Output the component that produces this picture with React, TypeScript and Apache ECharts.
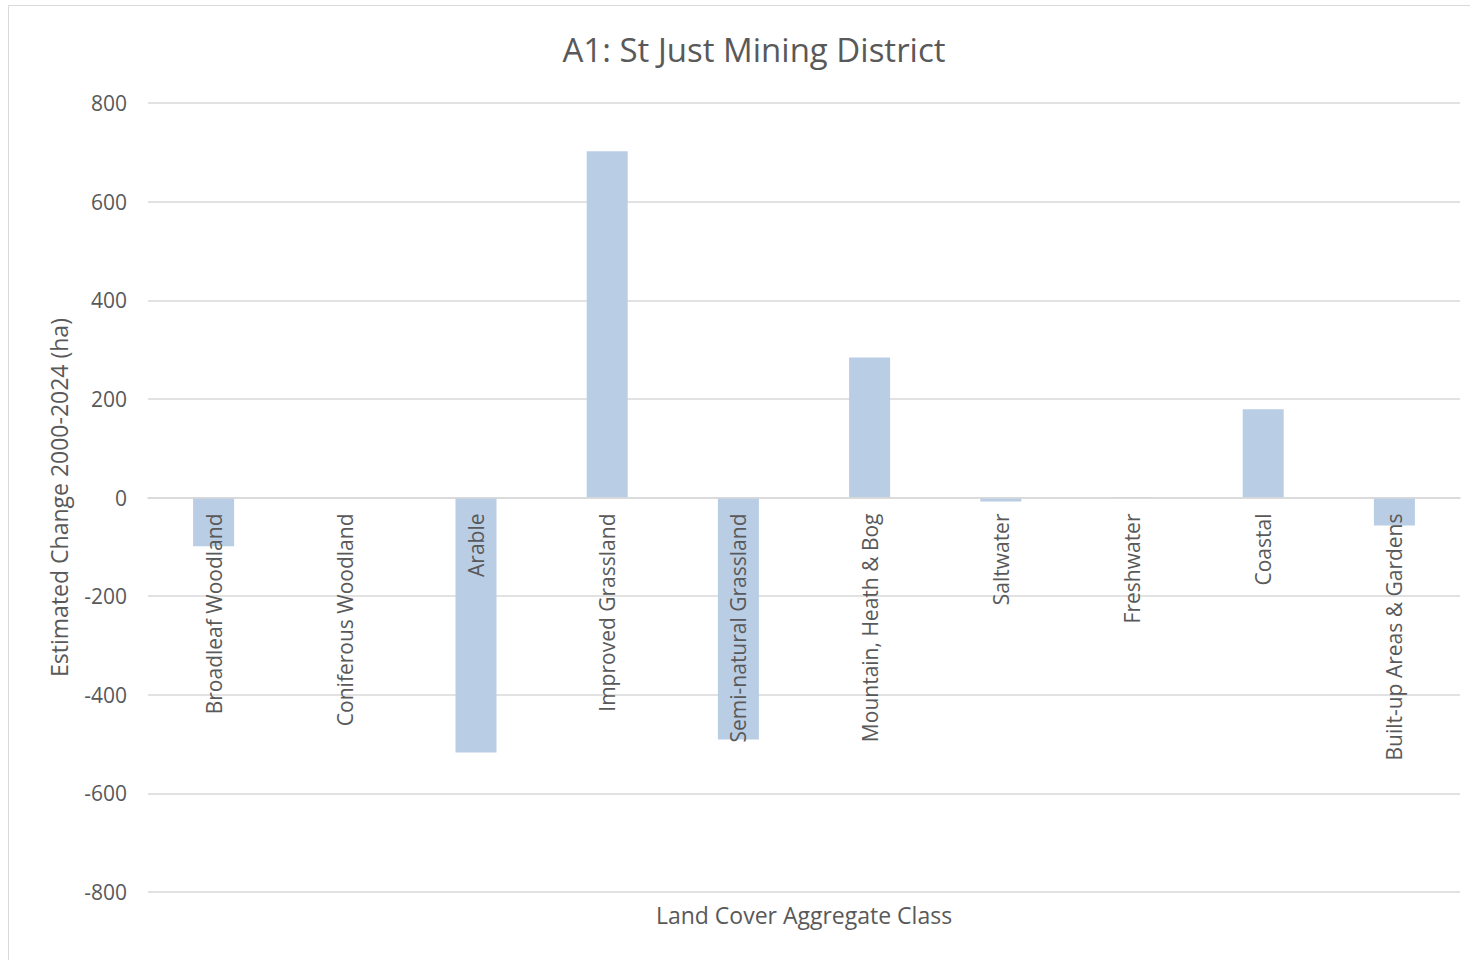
import React, { useEffect, useRef } from "react";
import * as echarts from "echarts";

const categories = [
  "Broadleaf Woodland",
  "Coniferous Woodland",
  "Arable",
  "Improved Grassland",
  "Semi-natural Grassland",
  "Mountain, Heath & Bog",
  "Saltwater",
  "Freshwater",
  "Coastal",
  "Built-up Areas & Gardens",
];
const values = [-99, 0, -517, 702, -491, 284, -8, 1, 179, -57];
const yMin = -800;
const yMax = 800;
const titleText = "A1: St Just Mining District";
const yAxisTitle = "Estimated Change 2000-2024 (ha)";
const xAxisTitle = "Land Cover Aggregate Class";

const FONT = "'Open Sans', 'Noto Sans', sans-serif";
const TEXT = "#595959";
const GRID_TOP = 103;
const GRID_BOTTOM = 68;
const HEIGHT = 960;

export default function App() {
  const ref = useRef<HTMLDivElement>(null);
  useEffect(() => {
    if (!ref.current) return;
    const chart = echarts.init(ref.current, undefined, { renderer: "svg" });
    const plotH = HEIGHT - GRID_TOP - GRID_BOTTOM;
    const zeroOffset = -plotH * (0 - yMin) / (yMax - yMin);
    chart.setOption({
      animation: false,
      backgroundColor: "#ffffff",
      textStyle: { fontFamily: FONT },
      title: {
        text: titleText,
        left: 749,
        top: 28,
        textAlign: "center",
        textStyle: { fontFamily: FONT, fontSize: 33, fontWeight: "normal", color: TEXT },
      },
      graphic: [
        {
          type: "rect",
          shape: { x: 8.5, y: 5.5, width: 1480, height: 980 },
          style: { fill: "none", stroke: "#D9D9D9", lineWidth: 1 },
          silent: true,
        },
        {
          type: "text",
          x: 804,
          y: 915,
          style: {
            text: xAxisTitle,
            fill: TEXT,
            font: `23px ${FONT}`,
            align: "center",
            verticalAlign: "middle",
          },
        },
      ],
      grid: {
        left: 148,
        right: 10,
        top: GRID_TOP,
        bottom: GRID_BOTTOM,
        containLabel: false,
        outerBoundsMode: "none",
      },
      xAxis: {
        type: "category",
        data: categories,
        position: "bottom",
        offset: zeroOffset,
        axisLine: {
          show: true,
          onZero: false,
          lineStyle: { color: "#D9D9D9", width: 1.5 },
        },
        axisTick: { show: false },
        axisLabel: {
          rotate: 90,
          interval: 0,
          margin: 16,
          color: TEXT,
          fontSize: 21,
          fontFamily: FONT,
        },
        z: 5,
      },
      yAxis: {
        type: "value",
        min: yMin,
        max: yMax,
        interval: 200,
        name: yAxisTitle,
        nameLocation: "middle",
        nameGap: 78,
        nameTextStyle: { color: TEXT, fontSize: 23, fontFamily: FONT },
        axisLine: { show: false },
        axisTick: { show: false },
        axisLabel: { color: TEXT, fontSize: 21, fontFamily: FONT, margin: 21 },
        splitLine: { lineStyle: { color: "#D9D9D9", width: 1.5 } },
      },
      series: [
        {
          type: "bar",
          data: values,
          barWidth: 41,
          itemStyle: { color: "#B9CDE5" },
          z: 2,
        },
      ],
    });
    return () => chart.dispose();
  }, []);
  return (
    <div
      ref={ref}
      style={{ position: "absolute", left: 0, top: 0, width: 1470, height: 960 }}
    />
  );
}
